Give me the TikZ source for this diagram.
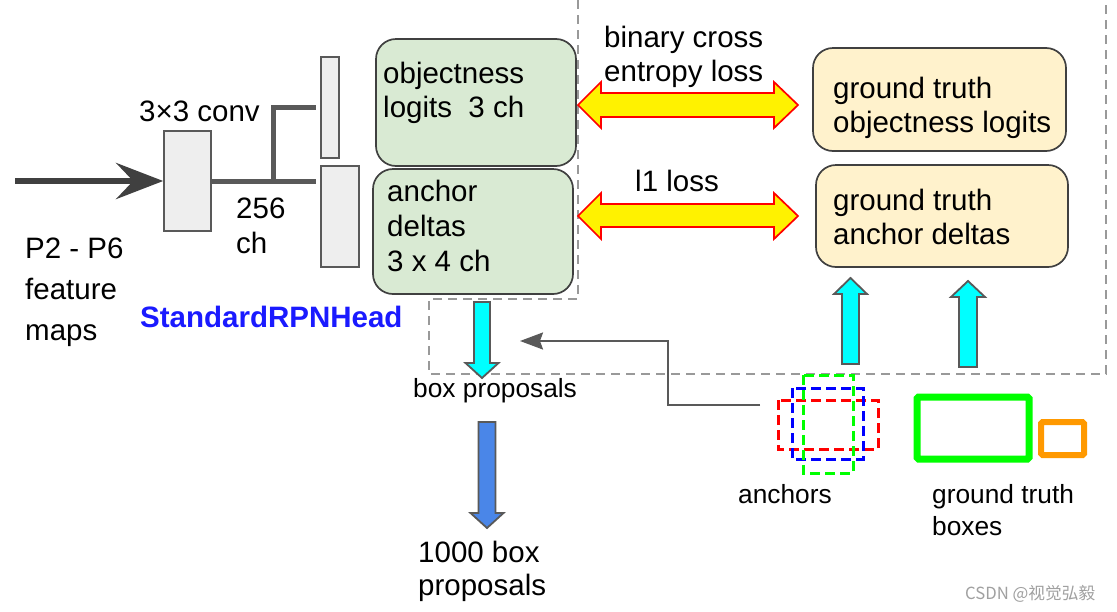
\documentclass[tikz,border=0pt]{standalone}
\usepackage{fontspec}
\setmainfont{Liberation Sans}
\newfontfamily\cjkfont{Noto Sans CJK SC}
\usetikzlibrary{arrows.meta}
\definecolor{darkline}{HTML}{404040}
\definecolor{midline}{HTML}{595959}
\definecolor{boxgray}{HTML}{EEEEEE}
\definecolor{greenfill}{HTML}{D9EAD3}
\definecolor{gtfill}{HTML}{FFF2CC}
\definecolor{dashgray}{HTML}{999999}
\definecolor{cyanfill}{HTML}{00FFFF}
\definecolor{bluefill}{HTML}{4A86E8}
\definecolor{headblue}{HTML}{1A1AFF}
\definecolor{anchred}{HTML}{FF0000}
\definecolor{anchblue}{HTML}{0000FF}
\definecolor{anchgreen}{HTML}{00FF00}
\definecolor{gtorange}{HTML}{FF9900}
\definecolor{wmgray}{HTML}{A0A0A0}
\newcommand\mainsz{\fontsize{29.5pt}{35pt}\selectfont}
\newcommand\lblsz{\fontsize{26.3pt}{32pt}\selectfont}
\newcommand\wmsz{\fontsize{16.7pt}{20pt}\selectfont}
\begin{document}
\begin{tikzpicture}[x=1pt,y=-1pt,
  txt/.style={anchor=base west, inner sep=0pt, font=\mainsz},
  lbl/.style={anchor=base west, inner sep=0pt, font=\lblsz},
  graybox/.style={draw=midline, line width=1.6pt, fill=boxgray, inner sep=0pt},
  rbox/.style={draw=darkline, line width=1.7pt, rounded corners=20pt, inner sep=0pt},
  feat/.style={draw=midline, line width=5pt},
  inarrow/.style={draw=darkline, line width=6.5pt, -{Stealth[length=47pt,width=36pt,inset=17pt]}},
  grayarrow/.style={draw=midline, line width=2pt, -{Stealth[length=23pt,width=17pt,inset=3pt]}},
  lossarrow/.style={fill=yellow, draw=anchred, line width=1.7pt},
  cyanarrow/.style={fill=cyanfill, draw=midline, line width=1.8pt},
  bluearrow/.style={fill=bluefill, draw=midline, line width=1.8pt},
  dashbox/.style={draw=dashgray, line width=1.8pt, dash pattern=on 9pt off 6pt},
  anch/.style={line width=3pt, dash pattern=on 10pt off 5pt}
]
\path[fill=white] (0,0) rectangle (1117,611);
\useasboundingbox (0,0) rectangle (1117,611);

% dashed region
\draw[dashbox] (578,0) -- (578,299) -- (429,299) -- (429,374) -- (1106,374) -- (1106,0);

% conv and head boxes
\node[graybox, minimum width=47pt, minimum height=100pt] (conv) at (187.5,181) {};
\node[graybox, minimum width=18pt, minimum height=101pt] (stop) at (330,107.5) {};
\node[graybox, minimum width=38pt, minimum height=101pt] (sbot) at (340,216.5) {};

\coordinate (in) at (15,181);
\draw[inarrow] (in) -- (conv.west);
\coordinate (j) at (273,181);
\draw[feat] (conv.east) -- ([xshift=-4pt]sbot.west |- conv.east);
\draw[feat] (j) |- ([xshift=-4pt]stop.west);

% prediction boxes
\node[rbox, fill=greenfill, minimum width=200pt, minimum height=127pt] (obj) at (476,102.5) {};
\node[rbox, fill=greenfill, minimum width=200pt, minimum height=125pt] (dlt) at (473,231.5) {};
\node[rbox, fill=gtfill, minimum width=253pt, minimum height=103pt] (gtobj) at (939.5,99.5) {};
\node[rbox, fill=gtfill, minimum width=252pt, minimum height=102pt] (gtdlt) at (942,216) {};

% texts
\node[txt] (t33) at (139,121) {3×3 conv};
\node[txt] (t256a) at (236,218) {256};
\node[txt] (t256b) at (236,253) {ch};
\node[txt] (tp1) at (25,258) {P2 - P6};
\node[txt] (tp2) at (25,299) {feature};
\node[txt] (tp3) at (25,340) {maps};
\node[txt, font=\mainsz\bfseries, text=headblue] (thead) at (140,327) {StandardRPNHead};
\node[txt] (to1) at (383,83) {objectness};
\node[txt] (to2) at (383,117) {logits\ \ 3 ch};
\node[txt] (td1) at (387,201) {anchor};
\node[txt] (td2) at (387,236) {deltas};
\node[txt] (td3) at (387,271) {3 x 4 ch};
\node[txt] (tb1) at (604,47) {binary cross};
\node[txt] (tb2) at (604,81) {entropy loss};
\node[txt] (tl1) at (635,191) {l1 loss};
\node[txt] (tg1) at (833,98) {ground truth};
\node[txt] (tg2) at (833,132) {objectness logits};
\node[txt] (tg3) at (833,210) {ground truth};
\node[txt] (tg4) at (833,244) {anchor deltas};
\node[lbl] (tbp) at (413,397) {box proposals};
\node[txt] (tk1) at (418,562) {1000 box};
\node[txt] (tk2) at (418,595) {proposals};
\node[lbl] (tan) at (738,503) {anchors};
\node[lbl] (tgb1) at (932,503) {ground truth};
\node[lbl] (tgb2) at (932,535) {boxes};
\node[anchor=base west, inner sep=0pt, font=\wmsz\cjkfont, text=wmgray] (wm) at (965,599) {CSDN @视觉弘毅};

% loss arrows
\path[lossarrow] (578,105) -- (601,82) -- (601,93) -- (774,93) -- (774,82) -- (798,105) -- (774,128) -- (774,117) -- (601,117) -- (601,128) -- cycle;
\path[lossarrow] (578,216) -- (601,193) -- (601,204) -- (774,204) -- (774,193) -- (798,216) -- (774,239) -- (774,227) -- (601,227) -- (601,239) -- cycle;

% block arrows
\path[cyanarrow] (482,378) -- (498.5,363) -- (490,363) -- (490,302) -- (474,302) -- (474,363) -- (465.5,363) -- cycle;
\path[bluearrow] (487,528) -- (503.5,513) -- (495.5,513) -- (495.5,422) -- (478.5,422) -- (478.5,513) -- (470.5,513) -- cycle;
\path[cyanarrow] (850.5,278) -- (867,294) -- (859,294) -- (859,364) -- (842,364) -- (842,294) -- (834,294) -- cycle;
\path[cyanarrow] (968,281) -- (985,297) -- (977,297) -- (977,367) -- (959,367) -- (959,297) -- (951,297) -- cycle;

% anchors
\draw[anch, draw=anchred] (778,400) rectangle (878,449);
\draw[anch, draw=anchblue] (792,388) rectangle (863,459);
\draw[anch, draw=anchgreen] (803,375) rectangle (853,473);

% ground truth boxes
\draw[draw=anchgreen, line width=7pt, rounded corners=1.5pt] (917,397) rectangle (1029,459);
\draw[draw=gtorange, line width=6pt, rounded corners=1.5pt] (1041,422) rectangle (1084,455);

% anchors to proposals
\coordinate (astart) at (760,405);
\coordinate (aend) at (520,341);
\draw[grayarrow] (astart) -| (668,341) -- (aend);
\end{tikzpicture}
\end{document}
